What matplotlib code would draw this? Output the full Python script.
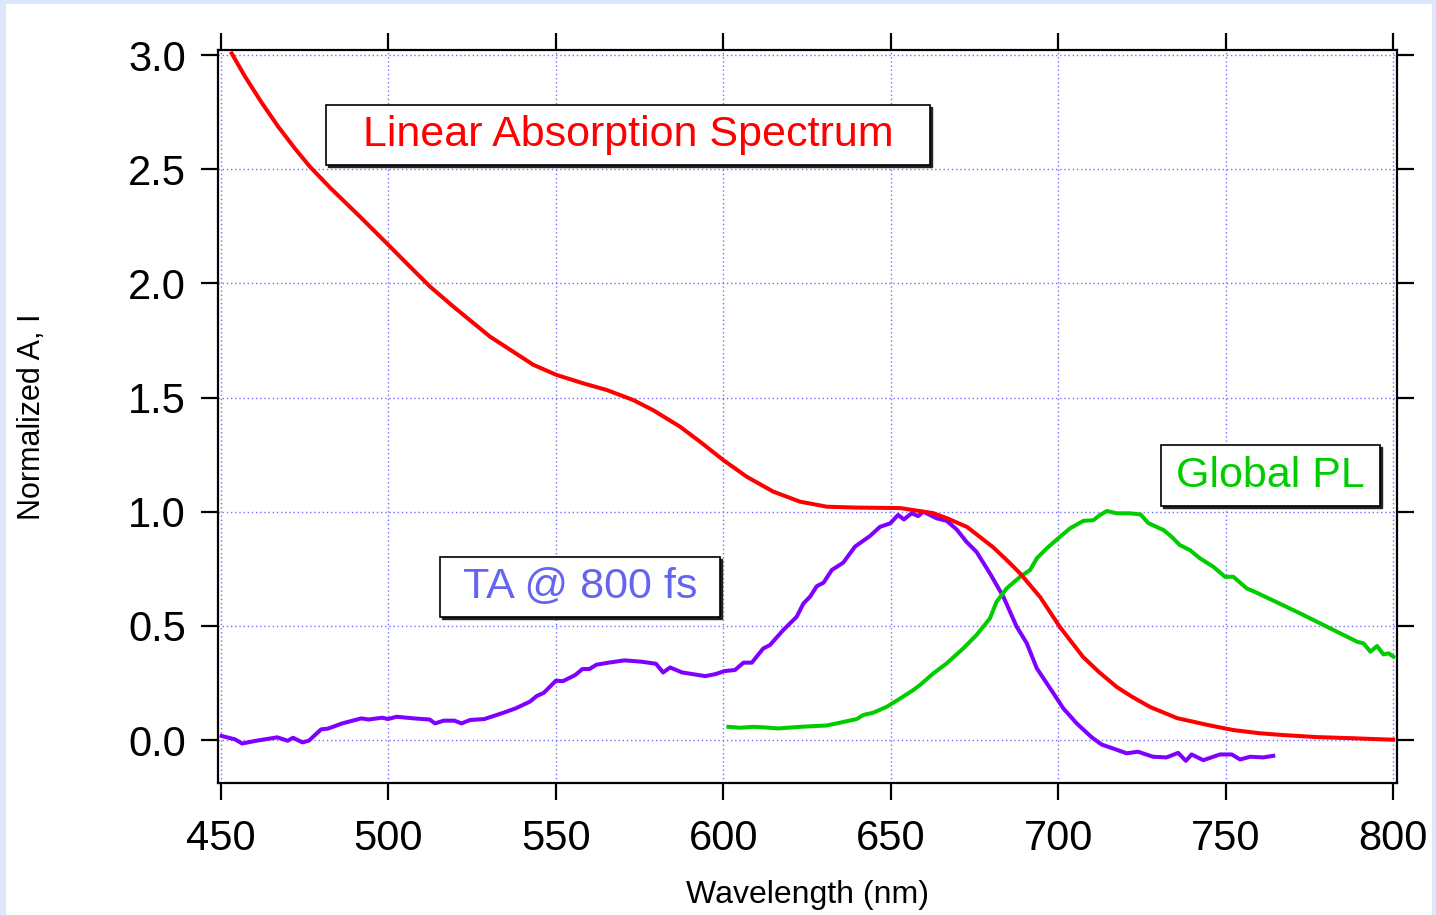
import matplotlib
matplotlib.use('Agg')
import matplotlib.pyplot as plt
import matplotlib.patches as mpatches
from matplotlib.transforms import offset_copy

plt.rcParams['font.family'] = ['Liberation Sans', 'DejaVu Sans']

# Linear absorption spectrum (red)
abs_wl = [453.2, 457.2, 462.2, 467.1, 472.1, 476.6, 482.5, 491.5, 500.0, 505.4,
          512.4, 519.4, 530.3, 543.3, 550.2, 558.2, 565.2, 573.1, 579.0, 587.1,
          593.0, 600.0, 607.0, 614.9, 622.9, 630.9, 640.0, 652.8, 662.6, 667.0,
          672.8, 680.5, 684.5, 688.6, 694.6, 700.5, 707.4, 712.0, 717.5, 722.0,
          727.4, 735.5, 745.0, 752.2, 760.0, 767.1, 777.3, 788.0, 799.0, 800.0]
abs_val = [3.007, 2.905, 2.790, 2.686, 2.590, 2.510, 2.420, 2.292, 2.168, 2.088,
           1.986, 1.898, 1.767, 1.643, 1.599, 1.562, 1.533, 1.489, 1.445, 1.372,
           1.307, 1.226, 1.153, 1.088, 1.044, 1.022, 1.018, 1.016, 0.994, 0.970,
           0.933, 0.845, 0.790, 0.730, 0.626, 0.495, 0.364, 0.300, 0.232, 0.190,
           0.145, 0.096, 0.065, 0.044, 0.030, 0.022, 0.013, 0.008, 0.002, 0.002]

# TA @ 800 fs (purple)
ta_wl = [450.2, 454.2, 456.3, 460.5, 466.8, 469.9, 471.5, 474.3, 476.2, 479.9,
         481.9, 486.2, 491.9, 494.0, 498.2, 499.8, 502.4, 507.6, 512.3, 513.9,
         516.5, 519.7, 521.8, 524.4, 528.6, 533.8, 538.0, 542.2, 544.3, 546.4,
         550.0, 552.1, 555.8, 557.9, 560.0, 562.1, 565.7, 570.5, 575.7, 579.9,
         582.0, 584.1, 587.7, 594.6, 597.7, 600.3, 603.5, 606.0, 608.5, 611.9,
         613.9, 617.9, 621.9, 623.9, 625.9, 627.9, 629.9, 632.4, 635.8, 639.3,
         643.8, 646.8, 649.8, 652.2, 653.9, 656.2, 658.2, 659.7, 663.7, 666.7,
         669.7, 672.6, 675.6, 679.6, 683.6, 687.6, 690.6, 693.6, 696.6, 698.6,
         701.5, 705.5, 710.0, 713.0, 716.4, 720.4, 723.8, 728.3, 732.3, 735.8,
         738.1, 739.8, 743.3, 748.3, 751.8, 754.3, 757.3, 761.2, 764.2]
ta_val = [0.018, 0.003, -0.015, -0.003, 0.012, -0.003, 0.010, -0.010, -0.003, 0.047,
          0.050, 0.073, 0.095, 0.090, 0.098, 0.092, 0.102, 0.095, 0.090, 0.073,
          0.085, 0.085, 0.073, 0.088, 0.092, 0.117, 0.139, 0.168, 0.193, 0.207,
          0.260, 0.258, 0.285, 0.311, 0.311, 0.330, 0.339, 0.349, 0.343, 0.334,
          0.296, 0.318, 0.296, 0.280, 0.289, 0.302, 0.307, 0.339, 0.339, 0.401,
          0.416, 0.482, 0.540, 0.598, 0.628, 0.674, 0.689, 0.745, 0.777, 0.847,
          0.894, 0.934, 0.949, 0.986, 0.966, 0.993, 0.981, 1.000, 0.971, 0.960,
          0.922, 0.868, 0.824, 0.730, 0.628, 0.496, 0.424, 0.314, 0.248, 0.204,
          0.139, 0.073, 0.012, -0.020, -0.037, -0.058, -0.051, -0.073, -0.076, -0.056,
          -0.091, -0.063, -0.088, -0.063, -0.063, -0.085, -0.073, -0.076, -0.069]

# Global PL (green)
pl_wl = [601.5, 605.0, 609.0, 612.9, 616.4, 622.9, 626.9, 630.9, 634.8, 639.8,
         641.8, 644.8, 648.8, 652.7, 656.7, 658.7, 662.7, 666.7, 671.6, 675.6,
         679.6, 681.6, 684.6, 688.6, 691.6, 693.6, 696.6, 700.5, 703.5, 707.5,
         710.5, 712.5, 714.5, 717.5, 721.4, 724.6, 726.9, 731.4, 733.8, 736.3,
         739.3, 742.3, 746.3, 749.8, 752.3, 756.3, 759.3, 772.2, 789.2, 791.2,
         793.2, 795.2, 797.1, 798.6, 800.1]
pl_val = [0.058, 0.054, 0.058, 0.055, 0.051, 0.058, 0.061, 0.064, 0.076, 0.092,
          0.110, 0.120, 0.146, 0.181, 0.219, 0.241, 0.292, 0.336, 0.401, 0.460,
          0.533, 0.606, 0.664, 0.715, 0.745, 0.796, 0.840, 0.890, 0.927, 0.960,
          0.963, 0.986, 1.003, 0.993, 0.993, 0.988, 0.950, 0.920, 0.891, 0.854,
          0.832, 0.796, 0.759, 0.715, 0.715, 0.664, 0.645, 0.555, 0.431, 0.423,
          0.387, 0.412, 0.375, 0.380, 0.365]

x_ticks = [450, 500, 550, 600, 650, 700, 750, 800]
y_ticks = [0.0, 0.5, 1.0, 1.5, 2.0, 2.5, 3.0]

fig = plt.figure(figsize=(14.36, 9.15), dpi=100, facecolor='#dde7fb')
# white page area inside the light blue border
fig.patches.append(mpatches.Rectangle((6 / 1436, 0.0), 1426 / 1436, 911 / 915,
                                      transform=fig.transFigure, facecolor='white',
                                      edgecolor='none', zorder=-10))

ax = fig.add_axes([218 / 1436, 1 - 783 / 915, 1179 / 1436, 733 / 915])
ax.set_zorder(1)
ax.set_facecolor('white')

ax.plot(ta_wl, ta_val, color='#7f00ff', lw=2.9, zorder=3)
ax.plot(pl_wl, pl_val, color='#00cc00', lw=2.9, zorder=3)
ax.plot(abs_wl, abs_val, color='#ff0000', lw=2.9, zorder=4)

ax.set_xlim(449.1, 801.15)
ax.set_ylim(-0.188, 3.022)
ax.set_xticks(x_ticks)
ax.set_yticks(y_ticks)
ax.set_yticklabels([f'{v:.1f}' for v in y_ticks])

ax.grid(True, color='#7070ff', linestyle=(0, (1, 2)), linewidth=1.0)
ax.set_axisbelow(True)

for s in ax.spines.values():
    s.set_linewidth(1.6)
ax.tick_params(axis='both', which='major', direction='out', length=12, width=1.6,
               labelsize=30, top=True, right=True)
ax.tick_params(axis='x', pad=14)
ax.tick_params(axis='y', pad=11)

ax.set_xlabel('Wavelength (nm)', fontsize=23)
ax.set_ylabel('Normalized A, I', fontsize=22)
ax.xaxis.set_label_coords(0.5, -0.132)
ax.yaxis.set_label_coords(-0.145, 0.5)


def label_box(x0, y0, x1, y1, text, color):
    # boxed annotation with a small drop shadow
    shadow_tr = offset_copy(ax.transAxes, fig=fig, x=2, y=-2, units='dots')
    ax.add_patch(mpatches.Rectangle((x0, y0), x1 - x0, y1 - y0, transform=shadow_tr,
                                    facecolor='#222222', edgecolor='#222222', lw=1,
                                    zorder=5, clip_on=False))
    ax.add_patch(mpatches.Rectangle((x0, y0), x1 - x0, y1 - y0, transform=ax.transAxes,
                                    facecolor='white', edgecolor='black', lw=1.2,
                                    zorder=6, clip_on=False))
    ax.text((x0 + x1) / 2, (y0 + y1) / 2, text, transform=ax.transAxes, color=color,
            fontsize=31, ha='center', va='center', zorder=7)


label_box(0.0916, 0.8431, 0.6039, 0.925, 'Linear Absorption Spectrum', '#ff0000')
label_box(0.1883, 0.2265, 0.4258, 0.3083, 'TA @ 800 fs', '#6464f0')
label_box(0.7998, 0.3779, 0.9856, 0.4611, 'Global PL', '#00cc00')

fig.savefig('out.png', dpi=100, facecolor=fig.get_facecolor())
